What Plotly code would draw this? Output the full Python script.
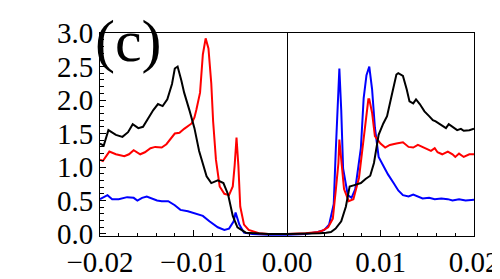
import plotly.graph_objects as go

# ---- data ----
black_x = [-0.0200, -0.0196, -0.0191, -0.0183, -0.0176, -0.0170, -0.0165, -0.0159, -0.0154,
           -0.0148, -0.0143, -0.0138, -0.0133, -0.0128, -0.0123, -0.0120, -0.0117, -0.0113,
           -0.0110, -0.0104, -0.0099, -0.0094, -0.0088, -0.0086, -0.0081, -0.0074, -0.0068,
           -0.0063, -0.0058, -0.0053, -0.0044, -0.0034, -0.0020, 0.0000, 0.0020, 0.0035,
           0.0042, 0.0047, 0.0052, 0.0058, 0.0063, 0.0067, 0.0072, 0.0079, 0.0084, 0.0089,
           0.0093, 0.0094, 0.0098, 0.0103, 0.0107, 0.0112, 0.0117, 0.0119, 0.0124, 0.0128,
           0.0131, 0.0135, 0.0138, 0.0142, 0.0147, 0.0152, 0.0156, 0.0159, 0.0165, 0.0170,
           0.0173, 0.0177, 0.0182, 0.0186, 0.0189, 0.0195, 0.0200]
black_y = [1.35, 1.32, 1.55, 1.48, 1.45, 1.52, 1.64, 1.58, 1.60,
           1.74, 1.85, 1.94, 1.91, 2.01, 2.24, 2.47, 2.50, 2.29,
           2.11, 1.83, 1.58, 1.24, 0.93, 0.86, 0.76, 0.80, 0.76,
           0.59, 0.27, 0.10, 0.02, 0.01, 0.00, 0.00, 0.00, 0.01,
           0.02, 0.03, 0.08, 0.19, 0.41, 0.71, 0.73, 0.76, 0.82, 0.87,
           1.06, 1.15, 1.48, 1.65, 1.76, 2.07, 2.38, 2.40, 2.36, 2.16,
           1.98, 1.95, 2.01, 1.94, 1.83, 1.76, 1.70, 1.68, 1.63, 1.58,
           1.64, 1.60, 1.55, 1.57, 1.54, 1.55, 1.57]

red_x = [-0.0200, -0.0197, -0.0190, -0.0183, -0.0174, -0.0169, -0.0164, -0.0157, -0.0152,
         -0.0146, -0.0141, -0.0134, -0.0129, -0.0125, -0.0120, -0.0115, -0.0110, -0.0102,
         -0.0099, -0.0097, -0.0093, -0.0090, -0.0087, -0.0084, -0.0081, -0.0079, -0.0076,
         -0.0072, -0.0067, -0.0062, -0.0058, -0.0056, -0.0054, -0.0052, -0.0050, -0.0046,
         -0.0041, -0.0030, -0.0020, 0.0000, 0.0020, 0.0033, 0.0038, 0.0044, 0.0049,
         0.0052, 0.0055, 0.0056, 0.0058, 0.0061, 0.0066, 0.0071, 0.0077, 0.0082, 0.0086,
         0.0087, 0.0088, 0.0091, 0.0094, 0.0100, 0.0105, 0.0110, 0.0117, 0.0124, 0.0130,
         0.0135, 0.0140, 0.0145, 0.0151, 0.0154, 0.0158, 0.0161, 0.0166, 0.0172, 0.0177,
         0.0180, 0.0184, 0.0189, 0.0195, 0.0200]
red_y = [1.11, 1.09, 1.23, 1.19, 1.16, 1.19, 1.25, 1.19, 1.22,
         1.28, 1.30, 1.29, 1.34, 1.41, 1.50, 1.51, 1.57, 1.65,
         1.74, 1.85, 2.11, 2.68, 2.92, 2.77, 2.25, 1.68, 1.11,
         0.71, 0.60, 0.58, 0.71, 1.02, 1.44, 1.02, 0.41, 0.14,
         0.06, 0.01, 0.00, 0.00, 0.01, 0.03, 0.05, 0.10, 0.23,
         0.63, 1.06, 1.41, 1.06, 0.67, 0.49, 0.52, 0.84, 1.41, 1.85,
         2.01, 2.01, 1.81, 1.46, 1.35, 1.29, 1.33, 1.35, 1.37, 1.30,
         1.29, 1.33, 1.30, 1.26, 1.24, 1.28, 1.22, 1.19, 1.23, 1.19,
         1.15, 1.20, 1.15, 1.19, 1.19]

blue_x = [-0.0200, -0.0196, -0.0192, -0.0187, -0.0180, -0.0171, -0.0164, -0.0160, -0.0155,
          -0.0150, -0.0143, -0.0139, -0.0134, -0.0127, -0.0120, -0.0114, -0.0106, -0.0097,
          -0.0090, -0.0083, -0.0074, -0.0067, -0.0062, -0.0057, -0.0055, -0.0051, -0.0046,
          -0.0037, -0.0020, 0.0000, 0.0020, 0.0033, 0.0040, 0.0045, 0.0050, 0.0052,
          0.0055, 0.0056, 0.0058, 0.0060, 0.0065, 0.0069, 0.0073, 0.0079, 0.0082, 0.0085,
          0.0088, 0.0091, 0.0094, 0.0098, 0.0103, 0.0108, 0.0114, 0.0119, 0.0124, 0.0130,
          0.0135, 0.0140, 0.0145, 0.0152, 0.0158, 0.0165, 0.0172, 0.0177, 0.0184, 0.0191,
          0.0200]
blue_y = [0.52, 0.55, 0.58, 0.52, 0.52, 0.55, 0.54, 0.50, 0.54,
          0.56, 0.52, 0.50, 0.49, 0.49, 0.43, 0.36, 0.34, 0.30,
          0.27, 0.19, 0.10, 0.06, 0.08, 0.19, 0.32, 0.14, 0.02,
          0.00, -0.01, -0.01, 0.00, 0.03, 0.06, 0.14, 0.45, 1.19,
          2.07, 2.47, 1.85, 0.98, 0.58, 0.54, 0.67, 1.28, 2.03, 2.37,
          2.50, 2.16, 1.59, 1.15, 1.02, 0.89, 0.76, 0.65, 0.58, 0.56,
          0.59, 0.56, 0.53, 0.54, 0.52, 0.53, 0.52, 0.50, 0.52, 0.50,
          0.51]

x_ticks = [-0.02, -0.01, 0.00, 0.01, 0.02]
y_ticks = [0.0, 0.5, 1.0, 1.5, 2.0, 2.5, 3.0]
panel_label = "(c)"

FONT = "Liberation Serif"

fig = go.Figure()
fig.add_trace(go.Scatter(x=blue_x, y=blue_y, mode="lines",
                         line=dict(color="#0000ff", width=2)))
fig.add_trace(go.Scatter(x=red_x, y=red_y, mode="lines",
                         line=dict(color="#ff0000", width=2)))
fig.add_trace(go.Scatter(x=black_x, y=black_y, mode="lines",
                         line=dict(color="#000000", width=2)))

fig.add_annotation(text=panel_label, xref="paper", yref="paper", x=0.0, y=0.87,
                   xanchor="left", yanchor="middle", xshift=-7, yshift=18, showarrow=False,
                   font=dict(family=FONT, size=60, color="black"))

fig.update_layout(
    width=500, height=279,
    margin=dict(l=92, r=28, t=9, b=39),
    paper_bgcolor="white", plot_bgcolor="white",
    showlegend=False,
    font=dict(family=FONT, size=29, color="black"),
    xaxis=dict(range=[-0.02, 0.02], tickvals=x_ticks, tickformat=".2f",
               showline=True, mirror=True, linecolor="black", linewidth=1,
               ticks="inside", ticklen=6, tickcolor="black", tickwidth=1,
               showgrid=False, zeroline=True, zerolinecolor="black", zerolinewidth=1,
               ticklabeloverflow="allow",
               minor=dict(ticks="inside", dtick=0.002, tick0=-0.02, ticklen=3.5,
                          tickcolor="black", showgrid=False),
               tickfont=dict(family=FONT, size=29, color="black")),
    yaxis=dict(range=[-0.03, 3.0005], tickvals=y_ticks, tickformat=".1f",
               showline=True, mirror=True, linecolor="black", linewidth=1,
               ticks="inside", ticklen=6, tickcolor="black", tickwidth=1,
               showgrid=False, zeroline=False,
               ticklabeloverflow="allow",
               minor=dict(ticks="inside", dtick=0.1, tick0=0, ticklen=3.5,
                          tickcolor="black", showgrid=False),
               tickfont=dict(family=FONT, size=29, color="black")),
)

fig.write_html("out.html")
